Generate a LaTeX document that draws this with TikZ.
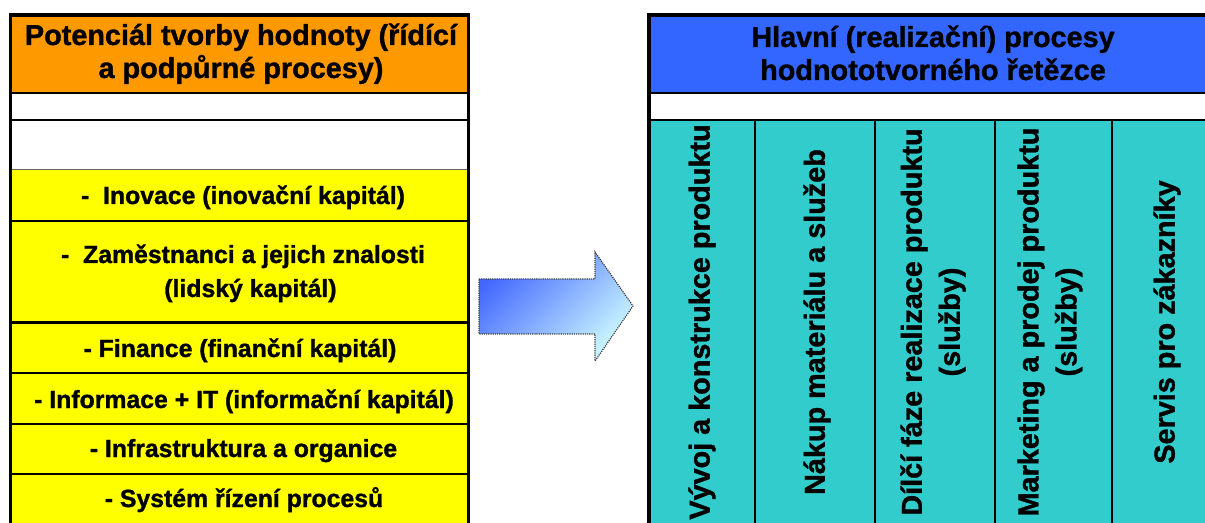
\documentclass[tikz,border=0pt]{standalone}
\usepackage{fontspec}
\setmainfont{Liberation Sans}[BoldFeatures={FakeBold=1.2}]
\definecolor{headorange}{HTML}{FF9900}
\definecolor{rowyellow}{HTML}{FFFF00}
\definecolor{headblue}{HTML}{3366FF}
\definecolor{colteal}{HTML}{33CCCC}
\definecolor{arrowdeep}{HTML}{4468FF}
\definecolor{arrowpale}{HTML}{CCF8FF}
\begin{document}
\begin{tikzpicture}[x=1bp,y=-1bp,
  headtext/.style={font=\bfseries\fontsize{28.8bp}{33bp}\selectfont, align=center, inner sep=0pt, anchor=base},
  rowtext/.style={font=\bfseries\fontsize{24.8bp}{34bp}\selectfont, align=center, inner sep=0pt, anchor=base},
  coltext/.style={font=\bfseries\fontsize{28.8bp}{38bp}\selectfont, align=center, inner sep=0pt, rotate=90},
  frame/.style={line width=3.2bp},
  rule/.style={line width=2.4bp},
  hair/.style={line width=1bp, draw=black!60}]
\useasboundingbox (0,0) rectangle (1205,523);
\begin{scope}
\clip (0,0) rectangle (1205,523);

% ---- left table: value-creation potential ----
\fill[headorange] (11,15) rectangle (468,93);
\fill[white] (11,93) rectangle (468,170);
\fill[rowyellow] (11,170) rectangle (468,530);

\draw[rule] (11,93) -- (468,93);
\draw[rule] (11,120) -- (468,120);
\draw[hair] (11,169.5) -- (468,169.5);
\foreach \yy in {221,322.5,373,424,474}
  \draw[rule] (11,\yy) -- (468,\yy);
\draw[frame] (10.5,530) -- (10.5,15) -- (468.5,15) -- (468.5,530);

% multi-line nodes: the base anchor sits on the last line
\node[headtext] (pot) at (241,78) {Potenciál tvorby hodnoty (řídící\\a podpůrné procesy)};
\node[rowtext] (inov) at (243,204) {-~ Inovace (inovační kapitál)};
\node[rowtext] (zam) at (243,297) {-~ Zaměstnanci a jejich znalosti\\\hspace*{0.6em}(lidský kapitál)};
\node[rowtext] (fin) at (240,357) {- Finance (finanční kapitál)};
\node[rowtext] (info) at (244,408) {- Informace + IT (informační kapitál)};
\node[rowtext] (infra) at (243.5,457) {- Infrastruktura a organice};
\node[rowtext] (sys) at (244,507) {- Systém řízení procesů};

% ---- block arrow ----
\path[draw=black!75, line width=1.2bp, densely dotted,
      top color=arrowdeep, bottom color=arrowpale, shading angle=45]
  (479,279) -- (595,279) -- (595,252) -- (633,306) -- (595,361)
  -- (595,334) -- (479,334) -- cycle;

% ---- right table: main value-chain processes ----
\fill[headblue] (648,15) rectangle (1225,93);
\fill[white] (648,93) rectangle (1225,120);
\fill[colteal] (648,120) rectangle (1225,530);

\draw[rule] (648,93) -- (1225,93);
\draw[rule] (648,120) -- (1225,120);
\foreach \xx in {755,875,995,1112}
  \draw[line width=2.2bp] (\xx,120) -- (\xx,530);
\draw[frame] (648.5,530) -- (648.5,15) -- (1225,15);
\draw[line width=4bp] (648.5,530) -- (648.5,15);

\node[headtext] (main) at (933,80) {Hlavní (realizační) procesy\\hodnototvorného řetězce};
\node[coltext] (c1) at (702,322) {Vývoj a konstrukce produktu};
\node[coltext] (c2) at (817,322) {Nákup materiálu a služeb};
\node[coltext] (c3) at (933,322) {Dílčí fáze realizace produktu\\(služby)};
\node[coltext] (c4) at (1050,322) {Marketing a prodej produktu\\(služby)};
\node[coltext] (c5) at (1167,322) {Servis pro zákazníky};
\end{scope}
\end{tikzpicture}
\end{document}
